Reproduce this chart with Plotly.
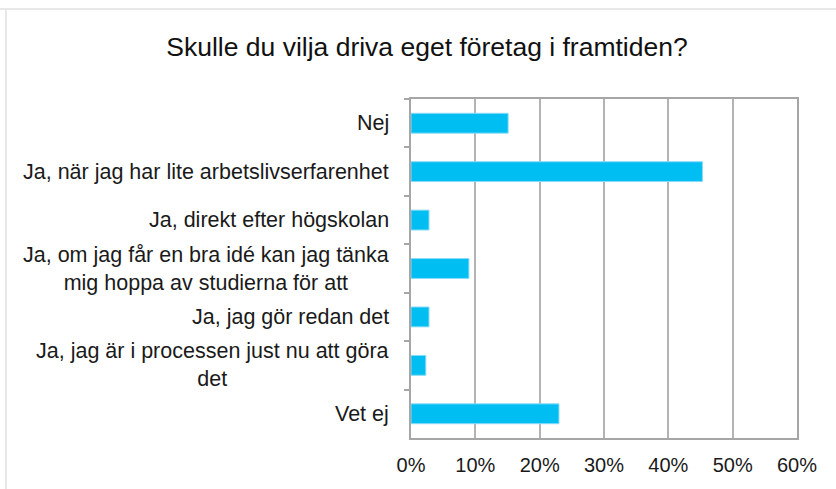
import plotly.graph_objects as go

title = "Skulle du vilja driva eget företag i framtiden?"
categories = [
    "Nej",
    "Ja, när jag har lite arbetslivserfarenhet",
    "Ja, direkt efter högskolan",
    "Ja, om jag får en bra idé kan jag tänka<br>mig hoppa av studierna för att",
    "Ja, jag gör redan det",
    "Ja, jag är i processen just nu att göra<br>det",
    "Vet ej",
]
values = [15.1, 45.3, 2.8, 9.0, 2.8, 2.3, 23.0]
x_ticks = [0, 10, 20, 30, 40, 50, 60]
x_ticklabels = ["0%", "10%", "20%", "30%", "40%", "50%", "60%"]

W, H = 836, 489
ML, MR, MT, MB = 411, 39, 99, 51
pw, ph = W - ML - MR, H - MT - MB

fig = go.Figure(go.Bar(
    x=values, y=categories, orientation="h",
    marker=dict(color="#00bdf2", line=dict(color="#8adcf5", width=1)),
    hoverinfo="x+y",
))

font = "Liberation Sans, Arial, sans-serif"

annotations = [
    dict(x=0, xref="paper", y=c, yref="y", text=c, xanchor="right", yanchor="middle",
         align="center", xshift=-20, showarrow=False,
         font=dict(family=font, size=21.5, color="#1a1a1a"))
    for c in categories
]

def px_x(p):
    return (p - ML) / pw

def px_y(p):
    return (H - MB - p) / ph

shapes = [
    dict(type="line", xref="paper", yref="paper", x0=px_x(0), x1=px_x(W), y0=px_y(9), y1=px_y(9),
         line=dict(color="#e8e8e8", width=2)),
    dict(type="line", xref="paper", yref="paper", x0=px_x(6), x1=px_x(6), y0=px_y(9), y1=px_y(H),
         line=dict(color="#e8e8e8", width=2)),
]

fig.update_layout(
    width=W, height=H,
    margin=dict(l=ML, r=MR, t=MT, b=MB),
    paper_bgcolor="white", plot_bgcolor="white",
    title=dict(text=title, x=427 / W, xanchor="center", y=1 - 47 / H, yanchor="middle",
               font=dict(family=font, size=26.5, color="#111111")),
    bargap=0.59,
    showlegend=False,
    annotations=annotations,
    shapes=shapes,
    xaxis=dict(range=[0, 60], tickvals=x_ticks, ticktext=x_ticklabels,
               showgrid=True, gridcolor="#b3b3b3", gridwidth=1.5,
               showline=True, linecolor="#a6a6a6", linewidth=2, mirror=True,
               ticks="", ticklen=0, zeroline=False, ticklabelstandoff=8,
               tickfont=dict(family=font, size=20, color="#1a1a1a"),
               fixedrange=True),
    yaxis=dict(autorange="reversed", type="category", tickson="boundaries",
               showticklabels=False, ticks="outside", ticklen=5, tickcolor="#a6a6a6",
               tickwidth=1.5,
               showgrid=False, showline=True, linecolor="#a6a6a6", linewidth=2, mirror=True,
               fixedrange=True),
)

fig.write_html("out.html", config={"displayModeBar": False},
               post_script="document.body.style.margin='0';")
